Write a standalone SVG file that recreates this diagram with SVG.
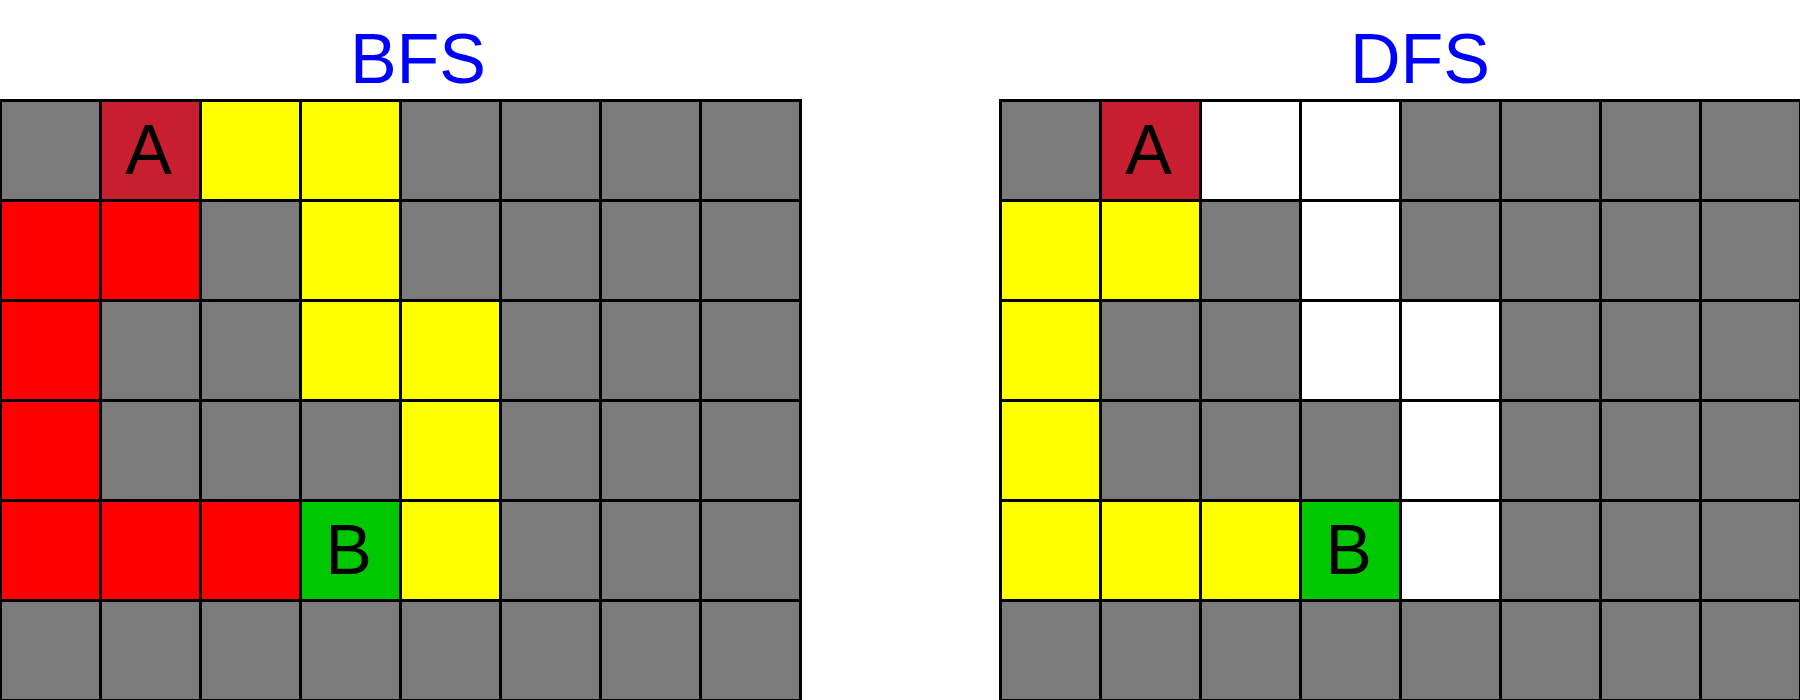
<svg xmlns="http://www.w3.org/2000/svg" width="1800" height="700" viewBox="0 0 1800 700">
<style>
rect{stroke:#000;stroke-width:3}
.g{fill:#7b7b7b}.a{fill:#c81f30}.y{fill:#ffff00}.r{fill:#ff0000}.b{fill:#00c800}.w{fill:#ffffff}
.t{font-family:"Liberation Sans",Arial,sans-serif;font-size:70px;fill:#0000ff;text-anchor:middle}
.l{font-family:"Liberation Sans",Arial,sans-serif;font-size:70px;fill:#000;text-anchor:middle}
</style>
<rect x="0" y="0" width="1800" height="700" fill="#fff" style="stroke:none"/>
<text class="t" x="418" y="83">BFS</text>
<text class="t" x="1420" y="83">DFS</text>
<g id="bfs" transform="translate(0.5,100.5)">
<rect class="g" x="0" y="0" width="100" height="100"/><rect id="bfs-A" class="a" x="100" y="0" width="100" height="100"/><rect class="y" x="200" y="0" width="100" height="100"/><rect class="y" x="300" y="0" width="100" height="100"/><rect class="g" x="400" y="0" width="100" height="100"/><rect class="g" x="500" y="0" width="100" height="100"/><rect class="g" x="600" y="0" width="100" height="100"/><rect class="g" x="700" y="0" width="100" height="100"/>
<rect class="r" x="0" y="100" width="100" height="100"/><rect class="r" x="100" y="100" width="100" height="100"/><rect class="g" x="200" y="100" width="100" height="100"/><rect class="y" x="300" y="100" width="100" height="100"/><rect class="g" x="400" y="100" width="100" height="100"/><rect class="g" x="500" y="100" width="100" height="100"/><rect class="g" x="600" y="100" width="100" height="100"/><rect class="g" x="700" y="100" width="100" height="100"/>
<rect class="r" x="0" y="200" width="100" height="100"/><rect class="g" x="100" y="200" width="100" height="100"/><rect class="g" x="200" y="200" width="100" height="100"/><rect class="y" x="300" y="200" width="100" height="100"/><rect class="y" x="400" y="200" width="100" height="100"/><rect class="g" x="500" y="200" width="100" height="100"/><rect class="g" x="600" y="200" width="100" height="100"/><rect class="g" x="700" y="200" width="100" height="100"/>
<rect class="r" x="0" y="300" width="100" height="100"/><rect class="g" x="100" y="300" width="100" height="100"/><rect class="g" x="200" y="300" width="100" height="100"/><rect class="g" x="300" y="300" width="100" height="100"/><rect class="y" x="400" y="300" width="100" height="100"/><rect class="g" x="500" y="300" width="100" height="100"/><rect class="g" x="600" y="300" width="100" height="100"/><rect class="g" x="700" y="300" width="100" height="100"/>
<rect class="r" x="0" y="400" width="100" height="100"/><rect class="r" x="100" y="400" width="100" height="100"/><rect class="r" x="200" y="400" width="100" height="100"/><rect id="bfs-B" class="b" x="300" y="400" width="100" height="100"/><rect class="y" x="400" y="400" width="100" height="100"/><rect class="g" x="500" y="400" width="100" height="100"/><rect class="g" x="600" y="400" width="100" height="100"/><rect class="g" x="700" y="400" width="100" height="100"/>
<rect class="g" x="0" y="500" width="100" height="100"/><rect class="g" x="100" y="500" width="100" height="100"/><rect class="g" x="200" y="500" width="100" height="100"/><rect class="g" x="300" y="500" width="100" height="100"/><rect class="g" x="400" y="500" width="100" height="100"/><rect class="g" x="500" y="500" width="100" height="100"/><rect class="g" x="600" y="500" width="100" height="100"/><rect class="g" x="700" y="500" width="100" height="100"/>
<text class="l" x="148" y="73.5">A</text>
<text class="l" x="348" y="473.5">B</text>
</g>
<g id="dfs" transform="translate(1000.5,100.5)">
<rect class="g" x="0" y="0" width="100" height="100"/><rect id="dfs-A" class="a" x="100" y="0" width="100" height="100"/><rect class="w" x="200" y="0" width="100" height="100"/><rect class="w" x="300" y="0" width="100" height="100"/><rect class="g" x="400" y="0" width="100" height="100"/><rect class="g" x="500" y="0" width="100" height="100"/><rect class="g" x="600" y="0" width="100" height="100"/><rect class="g" x="700" y="0" width="100" height="100"/>
<rect class="y" x="0" y="100" width="100" height="100"/><rect class="y" x="100" y="100" width="100" height="100"/><rect class="g" x="200" y="100" width="100" height="100"/><rect class="w" x="300" y="100" width="100" height="100"/><rect class="g" x="400" y="100" width="100" height="100"/><rect class="g" x="500" y="100" width="100" height="100"/><rect class="g" x="600" y="100" width="100" height="100"/><rect class="g" x="700" y="100" width="100" height="100"/>
<rect class="y" x="0" y="200" width="100" height="100"/><rect class="g" x="100" y="200" width="100" height="100"/><rect class="g" x="200" y="200" width="100" height="100"/><rect class="w" x="300" y="200" width="100" height="100"/><rect class="w" x="400" y="200" width="100" height="100"/><rect class="g" x="500" y="200" width="100" height="100"/><rect class="g" x="600" y="200" width="100" height="100"/><rect class="g" x="700" y="200" width="100" height="100"/>
<rect class="y" x="0" y="300" width="100" height="100"/><rect class="g" x="100" y="300" width="100" height="100"/><rect class="g" x="200" y="300" width="100" height="100"/><rect class="g" x="300" y="300" width="100" height="100"/><rect class="w" x="400" y="300" width="100" height="100"/><rect class="g" x="500" y="300" width="100" height="100"/><rect class="g" x="600" y="300" width="100" height="100"/><rect class="g" x="700" y="300" width="100" height="100"/>
<rect class="y" x="0" y="400" width="100" height="100"/><rect class="y" x="100" y="400" width="100" height="100"/><rect class="y" x="200" y="400" width="100" height="100"/><rect id="dfs-B" class="b" x="300" y="400" width="100" height="100"/><rect class="w" x="400" y="400" width="100" height="100"/><rect class="g" x="500" y="400" width="100" height="100"/><rect class="g" x="600" y="400" width="100" height="100"/><rect class="g" x="700" y="400" width="100" height="100"/>
<rect class="g" x="0" y="500" width="100" height="100"/><rect class="g" x="100" y="500" width="100" height="100"/><rect class="g" x="200" y="500" width="100" height="100"/><rect class="g" x="300" y="500" width="100" height="100"/><rect class="g" x="400" y="500" width="100" height="100"/><rect class="g" x="500" y="500" width="100" height="100"/><rect class="g" x="600" y="500" width="100" height="100"/><rect class="g" x="700" y="500" width="100" height="100"/>
<text class="l" x="148" y="73.5">A</text>
<text class="l" x="348" y="473.5">B</text>
</g>
<g id="connectors"/>
</svg>
